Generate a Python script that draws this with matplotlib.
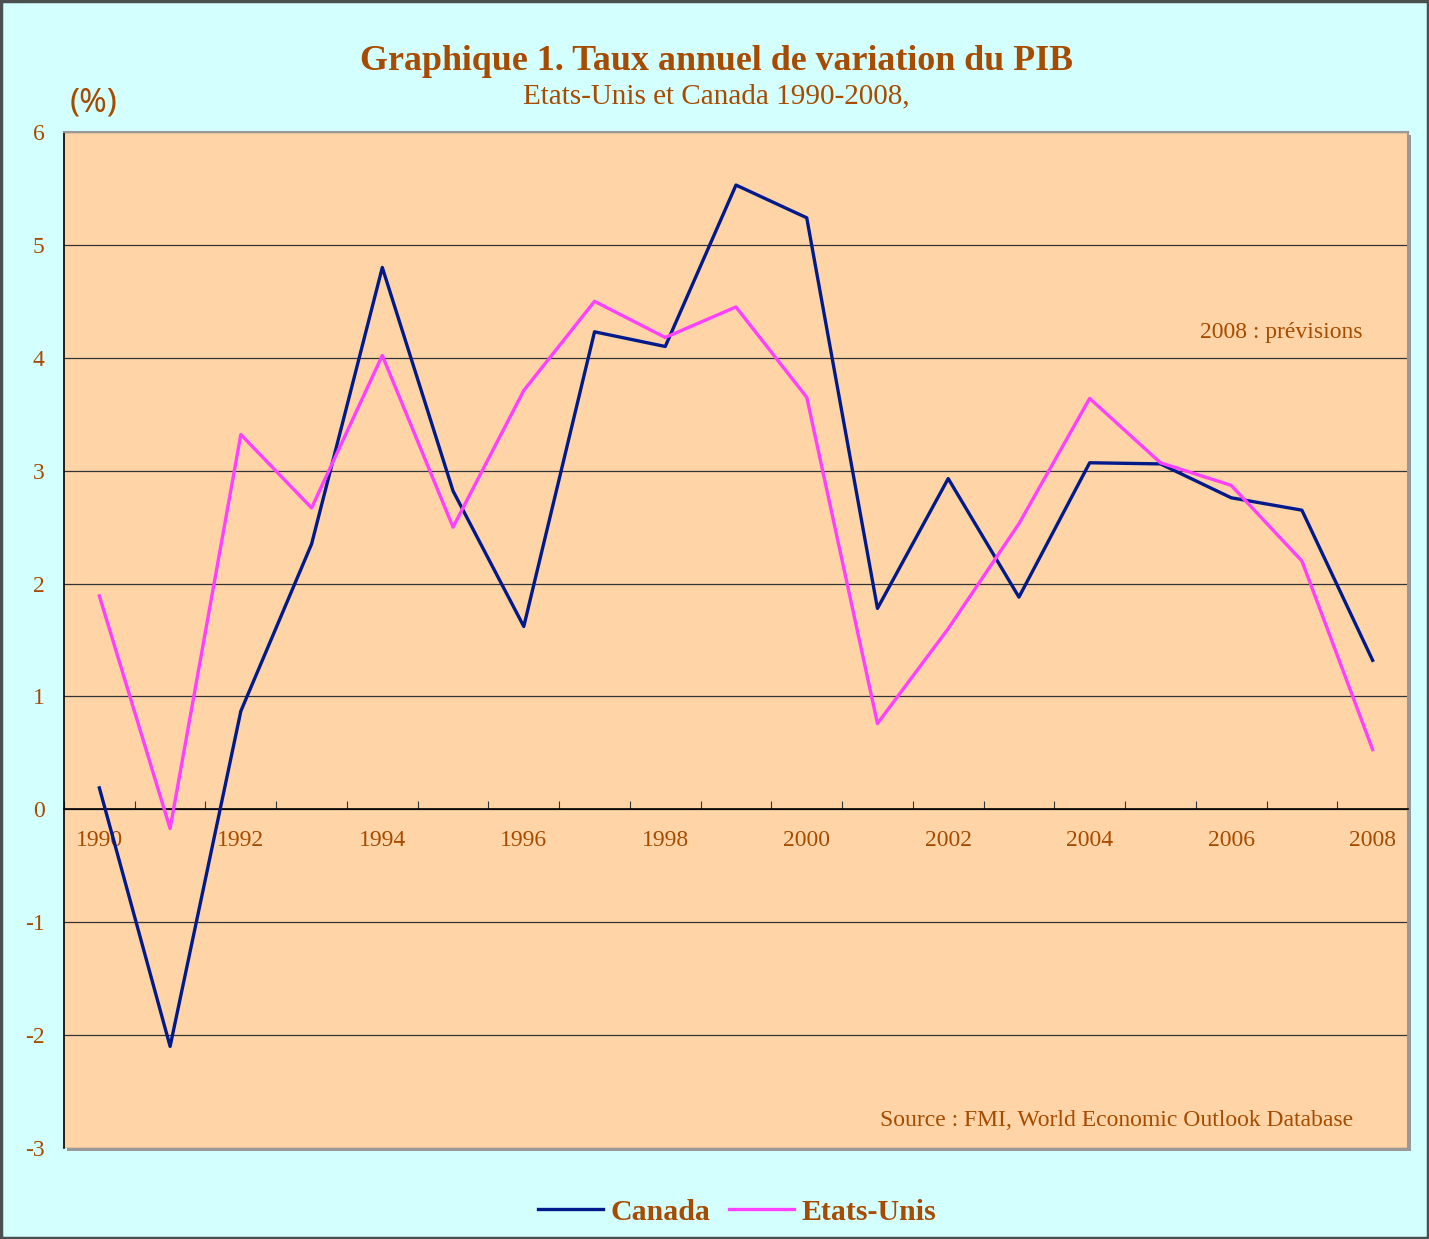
import matplotlib.pyplot as plt
import matplotlib.patches as patches
import numpy as np

years = list(range(1990, 2009))
canada = [0.19, -2.10, 0.87, 2.35, 4.80, 2.82, 1.62, 4.23, 4.10, 5.53,
          5.24, 1.78, 2.93, 1.88, 3.07, 3.06, 2.76, 2.65, 1.32]
usa = [1.89, -0.17, 3.32, 2.67, 4.02, 2.50, 3.71, 4.50, 4.18, 4.45,
       3.65, 0.76, 1.60, 2.53, 3.64, 3.07, 2.87, 2.20, 0.53]
yticks = list(range(-3, 7))

brown = '#A64B00'
bg = '#D4FFFF'
plotbg = '#FFD5A8'

plt.rcParams['font.family'] = ['Liberation Serif', 'DejaVu Serif']

fig = plt.figure(figsize=(14.29, 12.39), dpi=100, facecolor=bg)
ax = fig.add_axes([64/1429, 1 - 1148/1239, 1344/1429, 1016/1239])
ax.set_facecolor(plotbg)

# shadow behind plot area
pos = ax.get_position()
sh = patches.Rectangle((pos.x0 + 3/1429, pos.y0 - 3/1239), pos.width, pos.height,
                       transform=fig.transFigure, facecolor='#999999', edgecolor='none', zorder=-1)
fig.patches.append(sh)

x = np.arange(len(years))
ax.plot(x, canada, color='#001A8C', lw=2.4, label='Canada', zorder=3)
ax.plot(x, usa, color='#FF40FF', lw=2.4, label='Etats-Unis', zorder=3)

ax.set_xlim(-0.5, len(years) - 0.5)
ax.set_ylim(-3, 6)
ax.set_yticks(yticks)
ax.set_yticklabels([str(v) for v in yticks], color=brown, fontsize=17)
ax.tick_params(axis='y', length=0, pad=14)
ax.yaxis.grid(True, color='#333333', lw=0.9)
ax.set_axisbelow(True)

# x axis through zero
ax.spines['bottom'].set_position(('data', 0))
ax.spines['bottom'].set_color('black')
ax.spines['bottom'].set_linewidth(1.2)
ax.set_xticks(np.arange(-0.5, len(years), 1.0))
ax.set_xticklabels([])
ax.tick_params(axis='x', which='major', direction='in', length=6, color='#333333')
ax.set_xticks(x[::2], minor=True)
ax.set_xticklabels([str(y) for y in years[::2]], minor=True, color=brown, fontsize=17)
ax.tick_params(axis='x', which='minor', length=0, pad=15)

ax.spines['left'].set_color('black')
ax.spines['left'].set_linewidth(1.2)
for s in ['top', 'right']:
    ax.spines[s].set_color('#999999')
    ax.spines[s].set_linewidth(1.5)

fig.text(716/1429, 1 - 61/1239, 'Graphique 1. Taux annuel de variation du PIB',
         ha='center', va='center', fontsize=25.8, fontweight='bold', color=brown)
fig.text(716/1429, 1 - 96/1239, 'Etats-Unis et Canada 1990-2008,',
         ha='center', va='center', fontsize=21, color=brown)
fig.text(70/1429, 1 - 103/1239, '(%)', ha='left', va='center', fontsize=24,
         color=brown, family=['Noto Sans', 'DejaVu Sans'])

ax.text(1362/1429, 1 - 333/1239, '2008 : prévisions', transform=fig.transFigure,
        ha='right', va='center', fontsize=17, color=brown)
ax.text(1353/1429, 1 - 1121/1239, 'Source : FMI, World Economic Outlook Database',
        transform=fig.transFigure, ha='right', va='center', fontsize=17, color=brown)

leg = fig.legend(loc='center', bbox_to_anchor=(737/1429, 1 - 1212/1239), ncol=2,
                 frameon=False, fontsize=21.5, handlelength=2.2, columnspacing=0.6,
                 handletextpad=0.25)
for t in leg.get_texts():
    t.set_color(brown)
    t.set_fontweight('bold')

border = patches.Rectangle((0.001, 0.001), 0.998, 0.998, transform=fig.transFigure,
                           fill=False, edgecolor='#4A5050', lw=2.5)
fig.patches.append(border)

fig.savefig('out.png', dpi=100, facecolor=bg)
